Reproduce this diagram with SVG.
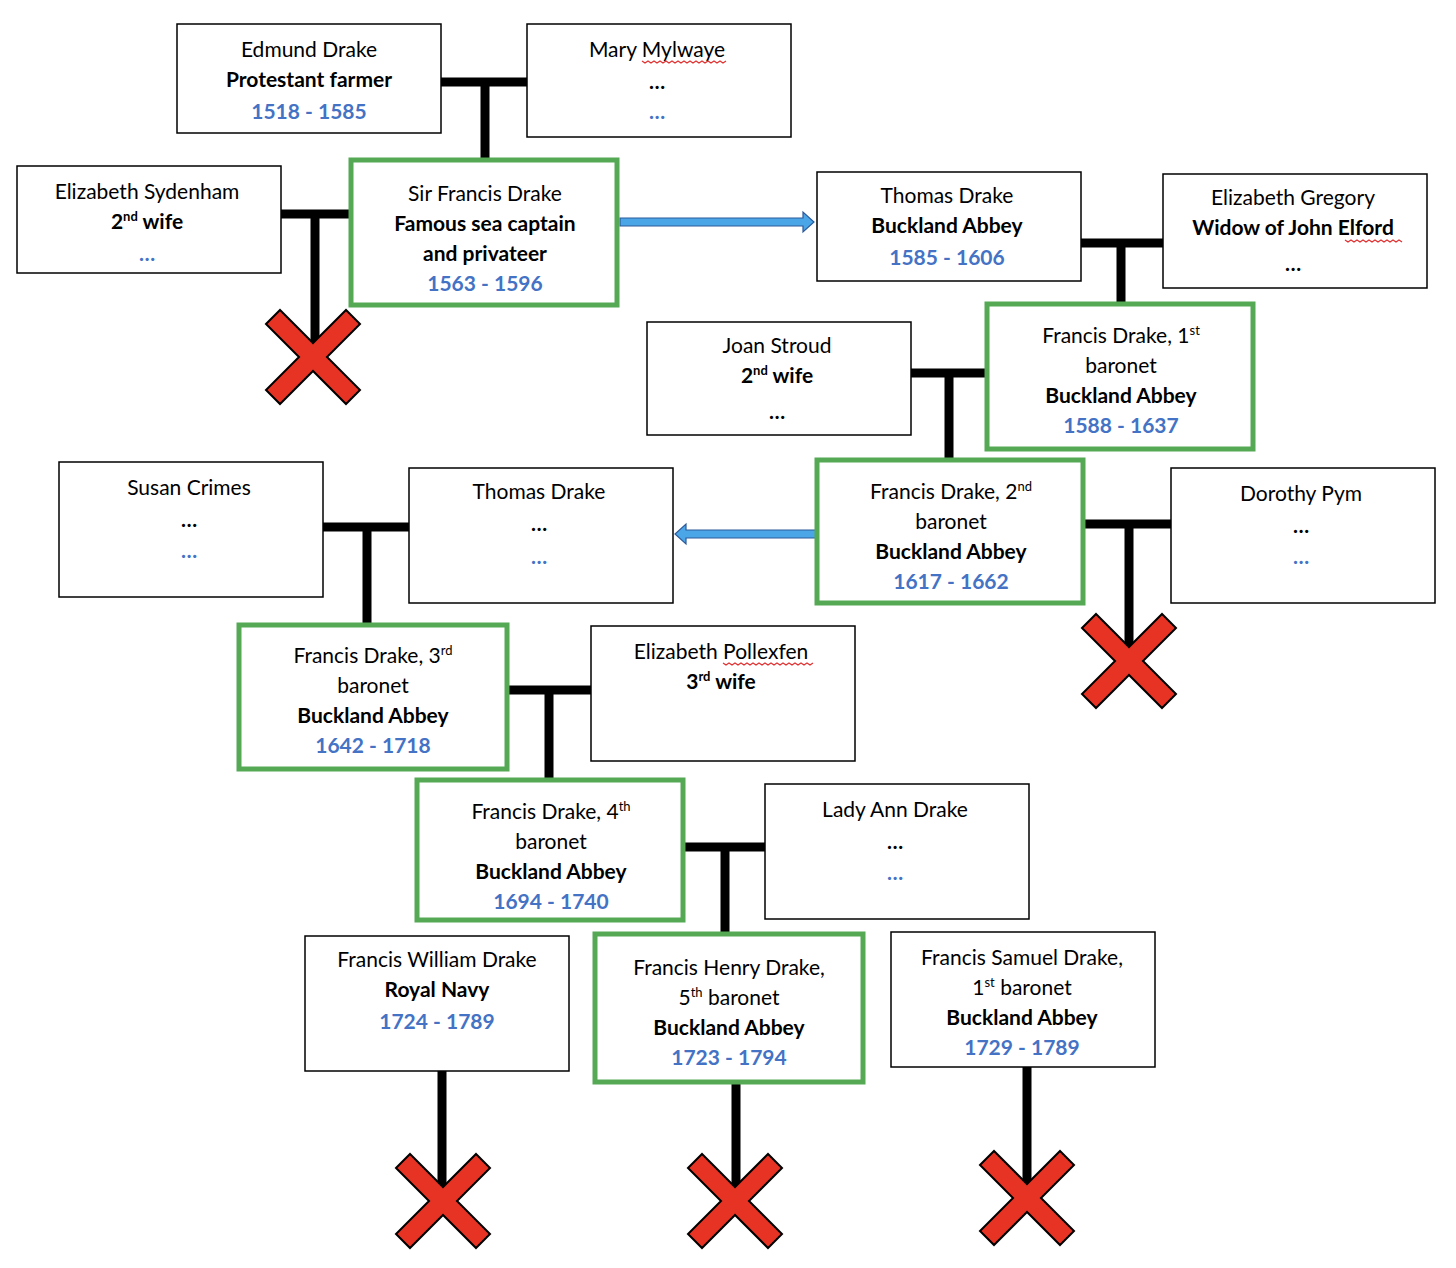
<svg xmlns="http://www.w3.org/2000/svg" width="1456" height="1268" viewBox="0 0 1456 1268">
<style>
text{font-family:Lato,"Open Sans","Liberation Sans",sans-serif;font-size:21px;text-anchor:middle;fill:#000}
.b{font-weight:bold}
.d{font-weight:bold;fill:#4472C4}
.n{fill:#fff;stroke:#000;stroke-width:1.5}
.g{fill:#fff;stroke:#55A955;stroke-width:5}
.c{stroke:#000;stroke-width:9;fill:none}
.sq{stroke:#e03030;stroke-width:1.2;fill:none}
.sup{font-size:13px}
</style>
<defs>
<polygon id="x" points="-47,-33 -33,-47 0,-14 33,-47 47,-33 14,0 47,33 33,47 0,14 -33,47 -47,33 -14,0" fill="#E63323" stroke="#000" stroke-width="2"/>
</defs>
<g id="connectors">
<path class="c" d="M441,82H527M485,82V160"/>
<path class="c" d="M281,214H351M315,214V357"/>
<path class="c" d="M1081,243H1163M1121,243V304"/>
<path class="c" d="M911,373H987M949,373V460"/>
<path class="c" d="M1083,524H1171M1129,524V660"/>
<path class="c" d="M323,527H409M367,527V625"/>
<path class="c" d="M507,690H591M549,690V780"/>
<path class="c" d="M683,847H765M725,847V934"/>
<path class="c" d="M442,1071V1200M736,1082V1200M1027,1067V1198"/>
<polygon points="620,218 803,218 803,212 814,222 803,232 803,226 620,226" fill="#4BA6E8" stroke="#2C5A9A" stroke-width="1.2"/>
<polygon points="817,530 686,530 686,524 675,534 686,544 686,538 817,538" fill="#4BA6E8" stroke="#2C5A9A" stroke-width="1.2"/>
<use href="#x" x="313" y="357"/>
<use href="#x" x="1129" y="661"/>
<use href="#x" x="443" y="1201"/>
<use href="#x" x="735" y="1201"/>
<use href="#x" x="1027" y="1198"/>
</g>
<g id="edmund"><rect class="n" x="177" y="24" width="264" height="109"/><text x="309" y="57">Edmund Drake</text><text class="b" x="309" y="87">Protestant farmer</text><text class="d" x="309" y="119">1518 - 1585</text></g>
<g id="mary"><rect class="n" x="527" y="24" width="264" height="113"/><text x="657" y="57">Mary Mylwaye</text><path class="sq" d="M642,61l3,2 3,-2 3,2 3,-2 3,2 3,-2 3,2 3,-2 3,2 3,-2 3,2 3,-2 3,2 3,-2 3,2 3,-2 3,2 3,-2 3,2 3,-2 3,2 3,-2 3,2 3,-2 3,2 3,-2 3,2 3,-2"/><text class="b" x="657" y="89">…</text><text class="d" x="657" y="119">…</text></g>
<g id="sydenham"><rect class="n" x="17" y="166" width="264" height="107"/><text x="147" y="199">Elizabeth Sydenham</text><text class="b" x="147" y="229">2<tspan class="sup" dy="-8">nd</tspan><tspan dy="8"> wife</tspan></text><text class="d" x="147" y="261">…</text></g>
<g id="sfd"><rect class="g" x="351" y="160" width="266" height="145"/><text x="485" y="201">Sir Francis Drake</text><text class="b" x="485" y="231">Famous sea captain</text><text class="b" x="485" y="261">and privateer</text><text class="d" x="485" y="291">1563 - 1596</text></g>
<g id="thomas1"><rect class="n" x="817" y="172" width="264" height="109"/><text x="947" y="203">Thomas Drake</text><text class="b" x="947" y="233">Buckland Abbey</text><text class="d" x="947" y="265">1585 - 1606</text></g>
<g id="gregory"><rect class="n" x="1163" y="174" width="264" height="114"/><text x="1293" y="205">Elizabeth Gregory</text><text class="b" x="1293" y="235">Widow of John Elford</text><path class="sq" d="M1345,240l3,2 3,-2 3,2 3,-2 3,2 3,-2 3,2 3,-2 3,2 3,-2 3,2 3,-2 3,2 3,-2 3,2 3,-2 3,2 3,-2 3,2"/><text class="b" x="1293" y="271">…</text></g>
<g id="fd1"><rect class="g" x="987" y="304" width="266" height="145"/><text x="1121" y="343">Francis Drake, 1<tspan class="sup" dy="-8">st</tspan></text><text x="1121" y="373">baronet</text><text class="b" x="1121" y="403">Buckland Abbey</text><text class="d" x="1121" y="433">1588 - 1637</text></g>
<g id="joan"><rect class="n" x="647" y="322" width="264" height="113"/><text x="777" y="353">Joan Stroud</text><text class="b" x="777" y="383">2<tspan class="sup" dy="-8">nd</tspan><tspan dy="8"> wife</tspan></text><text class="b" x="777" y="419">…</text></g>
<g id="fd2"><rect class="g" x="817" y="460" width="266" height="143"/><text x="951" y="499">Francis Drake, 2<tspan class="sup" dy="-8">nd</tspan></text><text x="951" y="529">baronet</text><text class="b" x="951" y="559">Buckland Abbey</text><text class="d" x="951" y="589">1617 - 1662</text></g>
<g id="dorothy"><rect class="n" x="1171" y="468" width="264" height="135"/><text x="1301" y="501">Dorothy Pym</text><text class="b" x="1301" y="533">…</text><text class="d" x="1301" y="564">…</text></g>
<g id="susan"><rect class="n" x="59" y="462" width="264" height="135"/><text x="189" y="495">Susan Crimes</text><text class="b" x="189" y="527">…</text><text class="d" x="189" y="558">…</text></g>
<g id="thomas2"><rect class="n" x="409" y="468" width="264" height="135"/><text x="539" y="499">Thomas Drake</text><text class="b" x="539" y="531">…</text><text class="d" x="539" y="564">…</text></g>
<g id="fd3"><rect class="g" x="239" y="625" width="268" height="144"/><text x="373" y="663">Francis Drake, 3<tspan class="sup" dy="-8">rd</tspan></text><text x="373" y="693">baronet</text><text class="b" x="373" y="723">Buckland Abbey</text><text class="d" x="373" y="753">1642 - 1718</text></g>
<g id="pollexfen"><rect class="n" x="591" y="626" width="264" height="135"/><text x="721" y="659">Elizabeth Pollexfen</text><path class="sq" d="M723,663l3,2 3,-2 3,2 3,-2 3,2 3,-2 3,2 3,-2 3,2 3,-2 3,2 3,-2 3,2 3,-2 3,2 3,-2 3,2 3,-2 3,2 3,-2 3,2 3,-2 3,2 3,-2 3,2 3,-2 3,2 3,-2 3,2 3,-2"/><text class="b" x="721" y="689">3<tspan class="sup" dy="-8">rd</tspan><tspan dy="8"> wife</tspan></text></g>
<g id="fd4"><rect class="g" x="417" y="780" width="266" height="140"/><text x="551" y="819">Francis Drake, 4<tspan class="sup" dy="-8">th</tspan></text><text x="551" y="849">baronet</text><text class="b" x="551" y="879">Buckland Abbey</text><text class="d" x="551" y="909">1694 - 1740</text></g>
<g id="ladyann"><rect class="n" x="765" y="784" width="264" height="135"/><text x="895" y="817">Lady Ann Drake</text><text class="b" x="895" y="849">…</text><text class="d" x="895" y="880">…</text></g>
<g id="fwd"><rect class="n" x="305" y="936" width="264" height="135"/><text x="437" y="967">Francis William Drake</text><text class="b" x="437" y="997">Royal Navy</text><text class="d" x="437" y="1029">1724 - 1789</text></g>
<g id="fhd"><rect class="g" x="595" y="934" width="268" height="148"/><text x="729" y="975">Francis Henry Drake,</text><text x="729" y="1005">5<tspan class="sup" dy="-8">th</tspan><tspan dy="8"> baronet</tspan></text><text class="b" x="729" y="1035">Buckland Abbey</text><text class="d" x="729" y="1065">1723 - 1794</text></g>
<g id="fsd"><rect class="n" x="891" y="932" width="264" height="135"/><text x="1022" y="965">Francis Samuel Drake,</text><text x="1022" y="995">1<tspan class="sup" dy="-8">st</tspan><tspan dy="8"> baronet</tspan></text><text class="b" x="1022" y="1025">Buckland Abbey</text><text class="d" x="1022" y="1055">1729 - 1789</text></g>
</svg>
